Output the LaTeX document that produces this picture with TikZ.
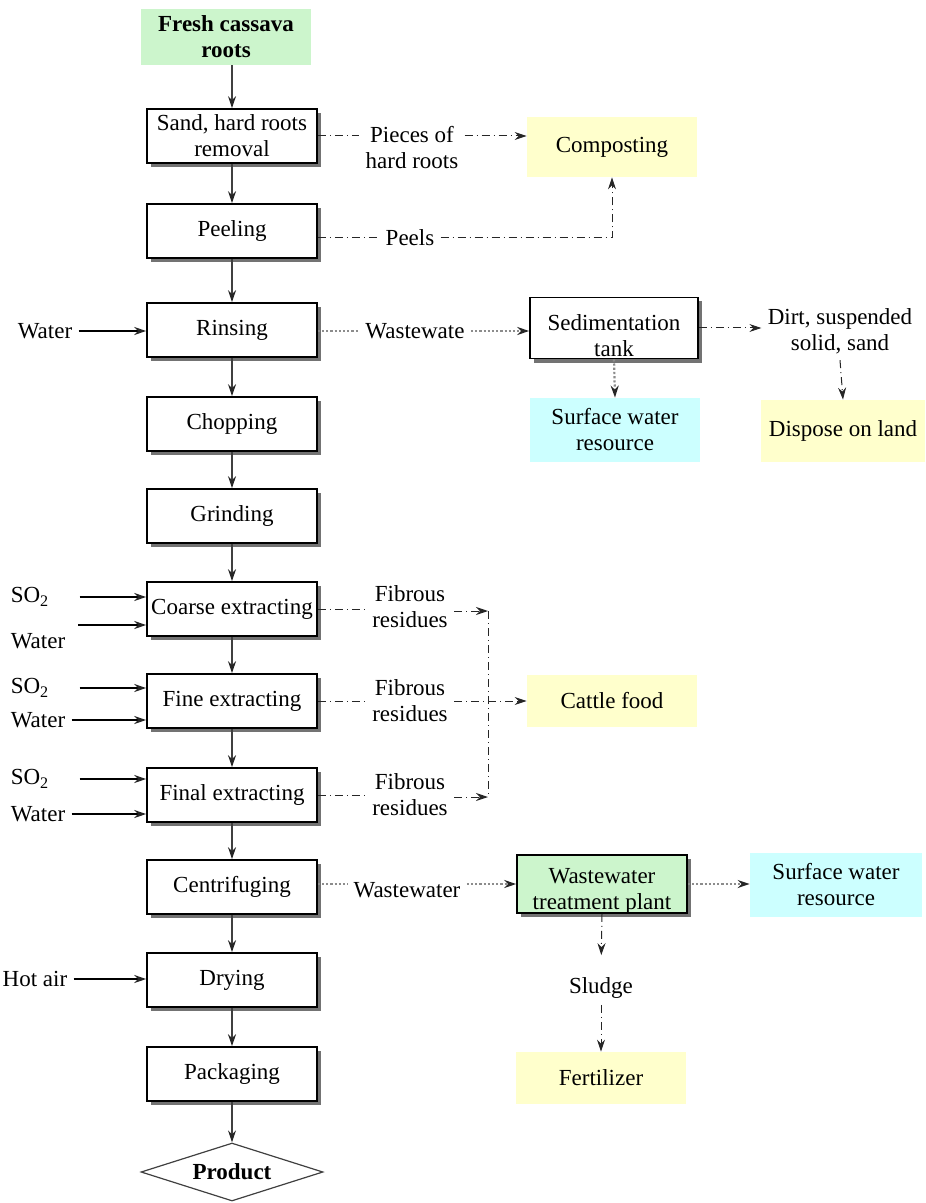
\documentclass[tikz,border=0pt]{standalone}
\usepackage{fontspec}
\setmainfont{Liberation Serif}
\usetikzlibrary{arrows.meta,shadows,shapes.geometric}
\definecolor{rootgreen}{HTML}{CCF5CC}
\definecolor{wasteyellow}{HTML}{FFFFCC}
\definecolor{watercyan}{HTML}{CCFFFF}
\tikzset{
    every node/.style={font=\fontsize{11.5}{13}\selectfont},
    process/.style={draw, line width=0.8pt, fill=white, align=center,
        minimum width=85pt, minimum height=27pt, inner sep=1pt,
        drop shadow={shadow xshift=2pt, shadow yshift=-2pt, fill=black!55, opacity=1}},
    outlet/.style={fill=#1, align=center, minimum width=85pt, minimum height=30pt, inner sep=1pt},
    stream/.style={align=center, inner sep=3pt},
    tip/.style={-{Stealth[length=6pt,width=4pt,inset=2pt,color=black!85]}},
    flow/.style={tip, black!75, line width=0.6pt},
    feed/.style={tip, black, line width=0.9pt},
    waste/.style={dash pattern=on 4pt off 2pt on 0.5pt off 2pt, black!85, line width=0.5pt},
    liquid/.style={densely dotted, black!45, line width=1.1pt},
}
\begin{document}
\begin{tikzpicture}[x=0.5pt, y=-0.5pt]
    \useasboundingbox (0,0) rectangle (925,1203);
    % main line
    \node[outlet=rootgreen, minimum height=28pt] (fresh) at (226,37) {\textbf{Fresh cassava}\\\textbf{roots}};
    \node[process] (sand) at (232,136) {Sand, hard roots\\removal};
    \node[process] (peel) at (232,231) {Peeling};
    \node[process] (rinse) at (232,330) {Rinsing};
    \node[process] (chop) at (232,424) {Chopping};
    \node[process] (grind) at (232,516) {Grinding};
    \node[process] (coarse) at (232,609) {Coarse extracting};
    \node[process] (fine) at (232,701) {Fine extracting};
    \node[process] (final) at (232,795) {Final extracting};
    \node[process] (centri) at (232,887) {Centrifuging};
    \node[process] (dry) at (232,980) {Drying};
    \node[process] (pack) at (232,1074) {Packaging};
    \node[draw=black!75, text=black, line width=0.6pt, shape=diamond, aspect=3.1, inner sep=0pt,
        minimum width=91pt, minimum height=29pt] (product) at (232,1172) {\textbf{Product}};
    \draw[flow] (fresh.south -| sand.north) -- (sand.north);
    \foreach \a/\b in {sand/peel, peel/rinse, rinse/chop, chop/grind, grind/coarse,
        coarse/fine, fine/final, final/centri, centri/dry, dry/pack, pack/product}
        \draw[flow] (\a) -- (\b);

    % inputs
    \node[stream] (water0) at (45,331) {Water};
    \node[stream] (so2a) at (30,597) {SO\textsubscript{2}};
    \node[stream] (watera) at (38,641) {Water};
    \node[stream] (so2b) at (30,688) {SO\textsubscript{2}};
    \node[stream] (waterb) at (38,720) {Water};
    \node[stream] (so2c) at (30,779) {SO\textsubscript{2}};
    \node[stream] (waterc) at (38,814) {Water};
    \node[stream] (hotair) at (35,979) {Hot air};
    \coordinate (wina) at (78,625);
    \draw[feed] (water0) -- (water0 -| rinse.west);
    \draw[feed] ([xshift=12pt]so2a.east) -- (so2a -| coarse.west);
    \draw[feed] (wina) -- (wina -| coarse.west);
    \draw[feed] ([xshift=12pt]so2b.east) -- (so2b -| fine.west);
    \draw[feed] (waterb) -- (waterb -| fine.west);
    \draw[feed] ([xshift=12pt]so2c.east) -- (so2c -| final.west);
    \draw[feed] (waterc) -- (waterc -| final.west);
    \draw[feed] (hotair) -- (hotair -| dry.west);

    % solid residues
    \node[outlet=wasteyellow] (compost) at (612,147) {Composting};
    \node[stream] (pieces) at (412,148) {Pieces of\\hard roots};
    \node[stream] (peels) at (410,238) {Peels};
    \draw[waste] (sand.east) -- (sand.east -| pieces.west);
    \draw[waste, tip] (pieces.east |- sand.east) -- (sand.east -| compost.west);
    \draw[waste] (peel.east |- peels) -- (peels.west);
    \draw[waste, tip] (peels.east) -| (compost.south);

    % rinsing water
    \node[process, minimum width=84pt, minimum height=30.5pt] (sedi) at (614,328) {};
    \node[stream] (seditext) at ([yshift=-4pt]sedi) {Sedimentation\\tank};
    \node[stream] (ww1) at (415,331) {Wastewate};
    \node[outlet=watercyan, minimum height=32pt] (surf1) at (615,430) {Surface water\\resource};
    \node[stream] (dirt) at (840,331) {Dirt, suspended\\solid, sand};
    \node[outlet=wasteyellow, minimum width=82pt, minimum height=31pt] (dispose) at (843,431) {Dispose on land};
    \draw[liquid] (rinse.east |- ww1) -- (ww1.west);
    \draw[liquid, tip] (ww1.east) -- (ww1.east -| sedi.west);
    \draw[waste, tip] (sedi.east) -- (sedi.east -| dirt.west);
    \draw[liquid, tip] (sedi.south) -- (surf1.north);
    \draw[waste, tip] (dirt.south) -- (dispose.north);

    % fibrous residues
    \node[stream] (fib1) at (410,607) {Fibrous\\residues};
    \node[stream] (fib2) at (410,701) {Fibrous\\residues};
    \node[stream] (fib3) at (410,795) {Fibrous\\residues};
    \node[outlet=wasteyellow, minimum height=26pt] (cattle) at (612,701) {Cattle food};
    \coordinate (bus1) at (488,611);
    \coordinate (bus3) at (488,797);
    \draw[waste] (coarse.east) -- (coarse.east -| fib1.west);
    \draw[waste] (fine.east) -- (fine.east -| fib2.west);
    \draw[waste] (final.east) -- (final.east -| fib3.west);
    \draw[waste, tip] (fib1.east |- bus1) -- (bus1);
    \draw[waste, tip] (fib3.east |- bus3) -- (bus3);
    \draw[waste] (bus1) -- (bus3);
    \draw[waste, tip] (fib2.east) -- (cattle.west);

    % process wastewater
    \node[process, fill=rootgreen, minimum height=29pt] (wwtp) at (602,884) {};
    \node[stream] (wwtptext) at ([yshift=-3.5pt]wwtp) {Wastewater\\treatment plant};
    \node[stream] (ww2) at (407,890) {Wastewater};
    \node[outlet=watercyan, minimum width=86pt, minimum height=32pt] (surf2) at (836,885) {Surface water\\resource};
    \node[stream] (sludge) at (601,988) {Sludge};
    \node[outlet=wasteyellow, minimum height=26pt] (fert) at (601,1078) {Fertilizer};
    \draw[liquid] (centri.east |- wwtp) -- (ww2.west |- wwtp);
    \draw[liquid, tip] (ww2.east |- wwtp) -- (wwtp.west);
    \draw[liquid, tip] (wwtp.east) -- (wwtp.east -| surf2.west);
    \draw[waste, tip, shorten >=8pt] (wwtp.south) -- (sludge.north);
    \draw[waste, tip] (sludge.south) -- (fert.north);
\end{tikzpicture}
\end{document}
